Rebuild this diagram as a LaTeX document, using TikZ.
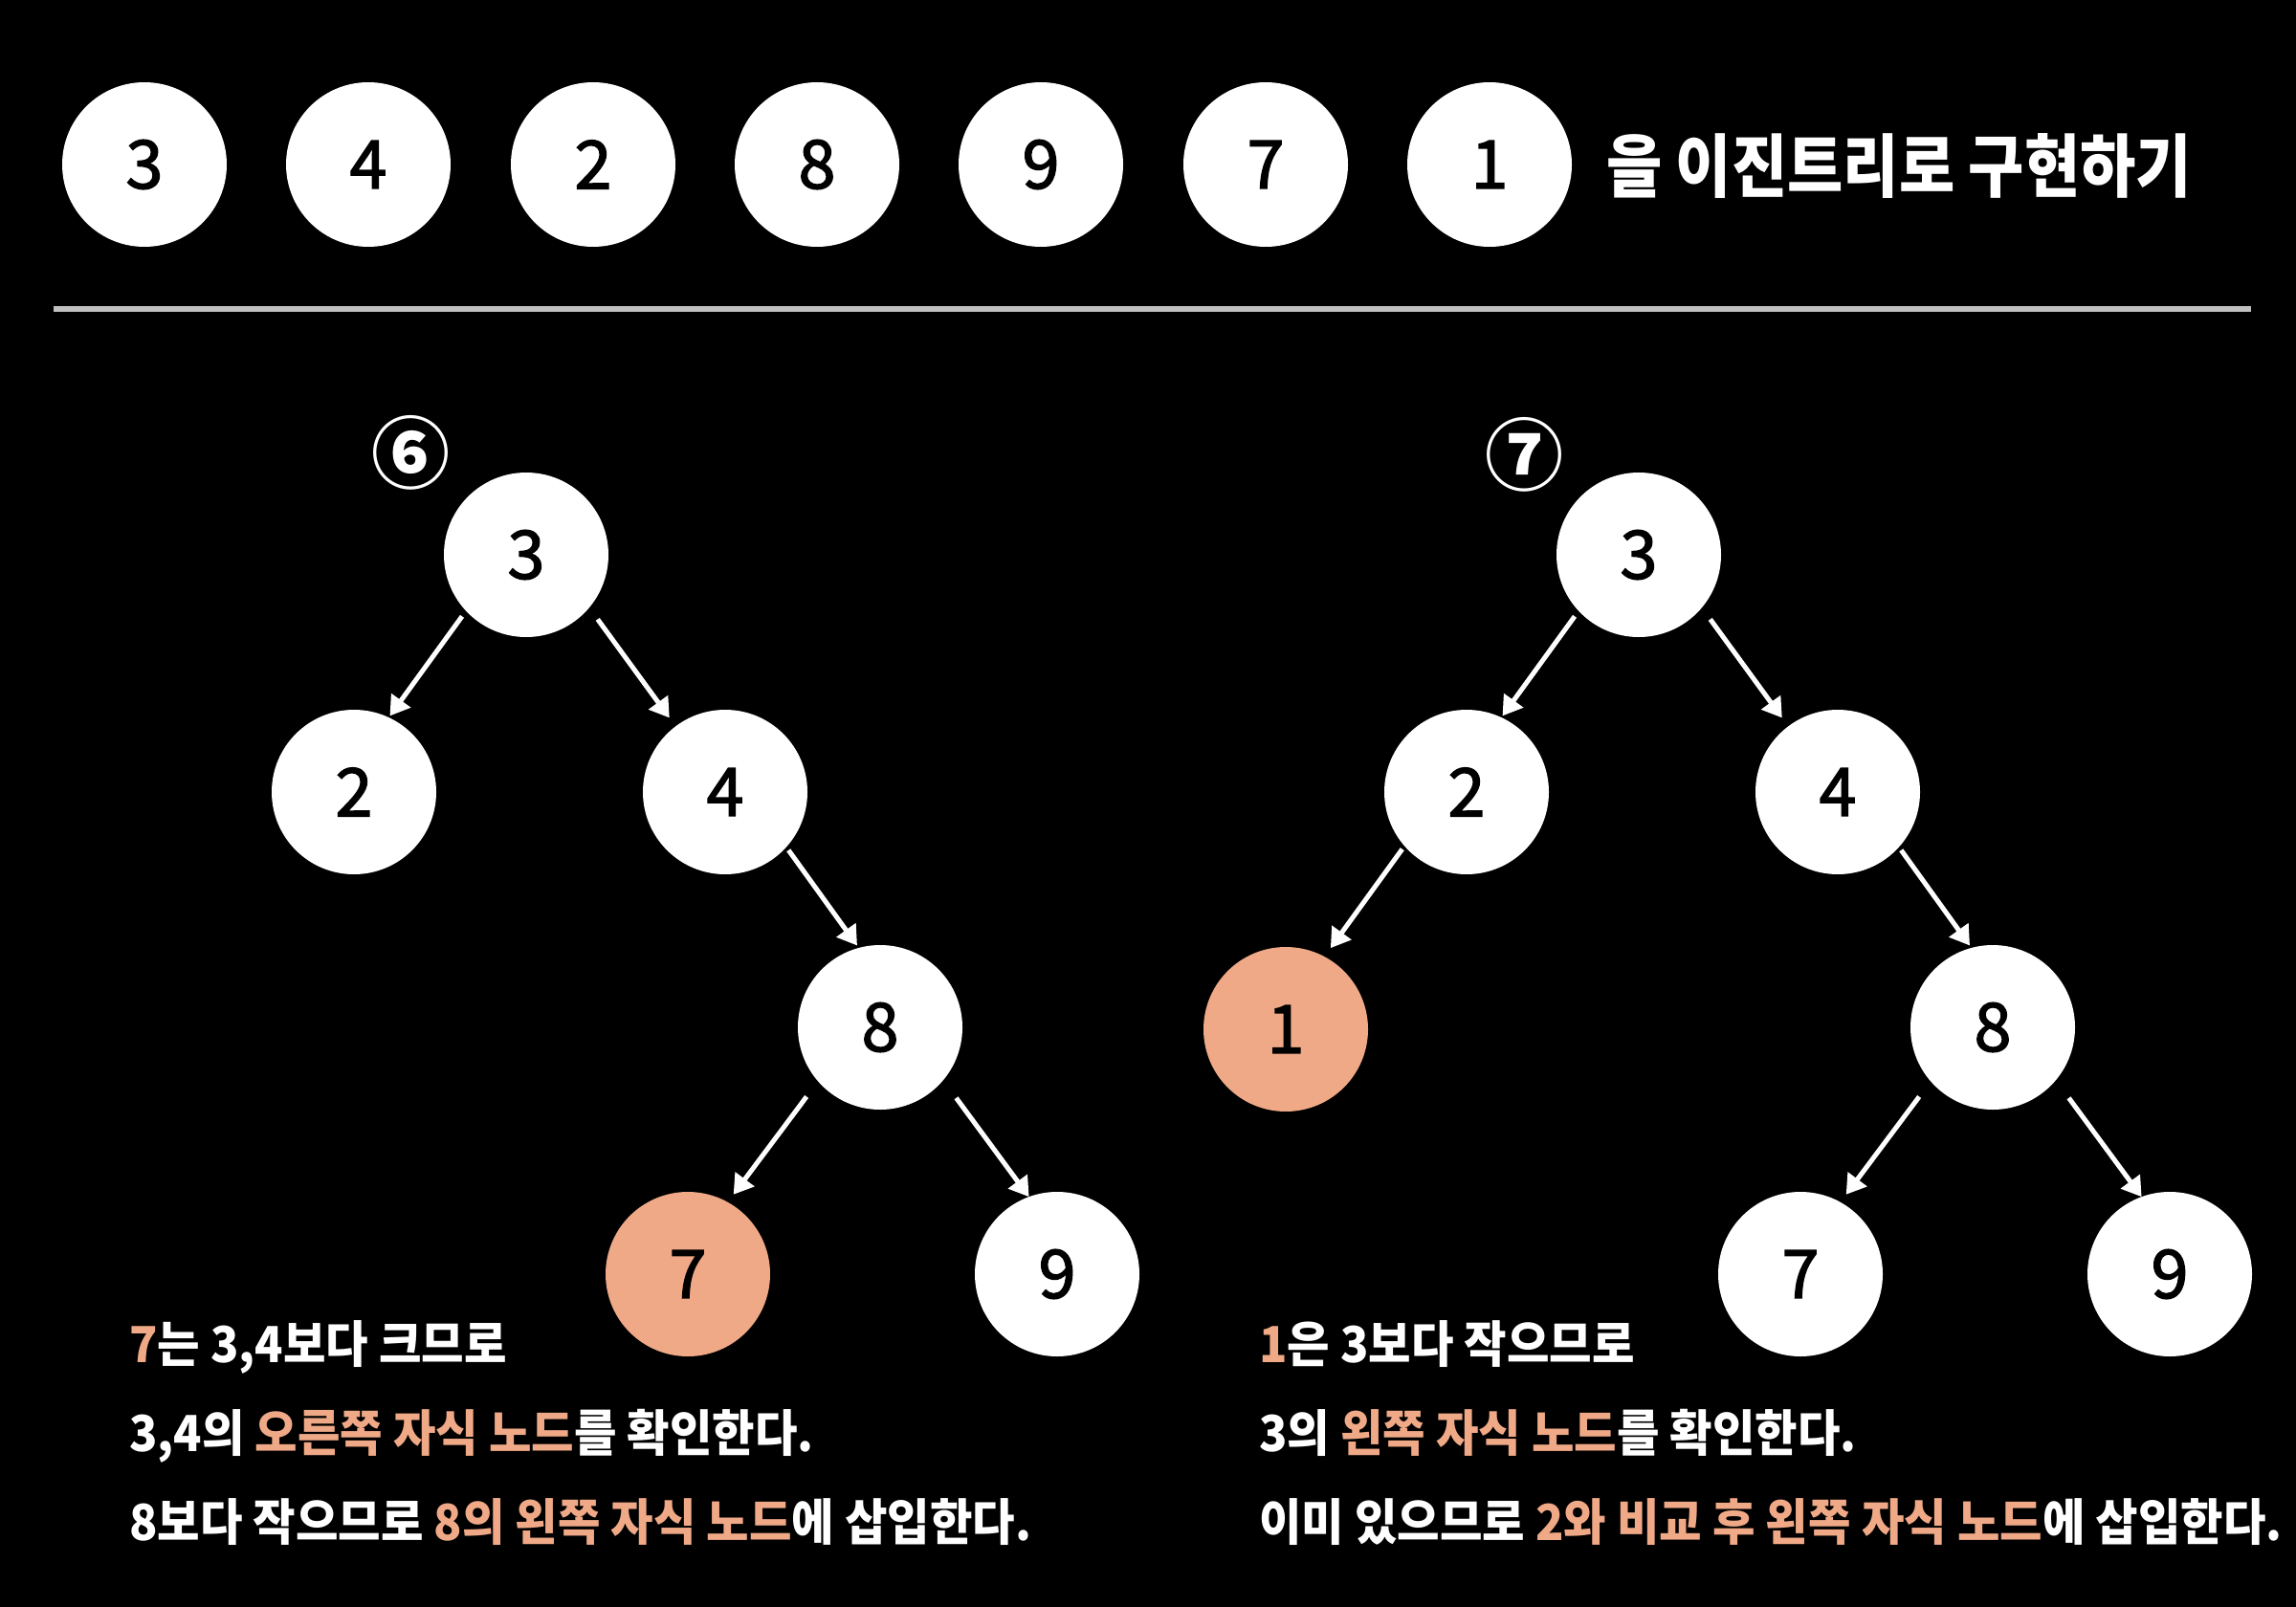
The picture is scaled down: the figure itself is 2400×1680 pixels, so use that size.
\documentclass[tikz,border=0pt]{standalone}
\usepackage{fontspec}
\usetikzlibrary{arrows.meta}
\setmainfont{Noto Sans CJK KR}
\newfontfamily\krbody[FakeStretch=0.93]{Noto Sans CJK KR}
\newfontfamily\krtitle[FakeStretch=0.88]{Noto Sans CJK KR}
\newfontfamily\krnum[FakeBold=2]{Noto Sans CJK KR}
\definecolor{hl}{HTML}{F0A987}
\definecolor{rulegray}{HTML}{C0C0C0}
\begin{document}
\begin{tikzpicture}[x=1pt,y=-1pt,
  nd/.style={circle,fill=white,minimum size=172pt,inner sep=0pt,outer sep=0pt,text=black,font=\krnum\fontsize{70}{80}\selectfont},
  hot/.style={nd,fill=hl},
  arr/.style={draw=white,line width=5pt,-{Triangle[width=24pt,length=20pt]}},
  body/.style={anchor=base west,inner sep=0pt,text=white,font=\krbody\bfseries\fontsize{52}{60}\selectfont},
  circnum/.style={anchor=base,inner sep=0pt,text=white,font=\bfseries\fontsize{82}{90}\selectfont}
]
\fill[black] (0,0) rectangle (2400,1680);
\useasboundingbox (0,0) rectangle (2400,1680);

% top row
\node[nd] (s1) at (151,172) {3};
\node[nd] (s2) at (385,172) {4};
\node[nd] (s3) at (620,172) {2};
\node[nd] (s4) at (854,172) {8};
\node[nd] (s5) at (1088,172) {9};
\node[nd] (s6) at (1323,172) {7};
\node[nd] (s7) at (1557,172) {1};
\node[anchor=base west,inner sep=0pt,text=white,font=\krtitle\bfseries\fontsize{72}{80}\selectfont] (title) at (1679,201) {을 이진트리로 구현하기};

\coordinate (ra) at (56,323);
\coordinate (rb) at (2353,323);
\draw[rulegray,line width=6pt] (ra) -- (rb);

% left tree
\node[circnum] (n6) at (429,504) {⑥};
\node[nd] (L3) at (550,580) {3};
\node[nd] (L2) at (370,828) {2};
\node[nd] (L4) at (758,828) {4};
\node[nd] (L8) at (920,1074) {8};
\node[hot] (L7) at (719,1332) {7};
\node[nd] (L9) at (1105,1332) {9};
\draw[arr,shorten <=7pt,shorten >=2pt] (L3.223) -- (L2.65);
\draw[arr,shorten <=15pt,shorten >=11pt] (L3.320) -- (L4.127);
\draw[arr,shorten <=4pt,shorten >=3pt] (L4.318) -- (L8.105);
\draw[arr,shorten <=20pt,shorten >=10pt] (L8.221) -- (L7.61);
\draw[arr,shorten <=23pt,shorten >=0pt] (L8.320) -- (L9.110);

% right tree
\node[circnum] (n7) at (1593,506) {⑦};
\node[nd] (R3) at (1713,580) {3};
\node[nd] (R2) at (1533,828) {2};
\node[nd] (R4) at (1921,828) {4};
\node[hot] (R1) at (1344,1076) {1};
\node[nd] (R8) at (2083,1074) {8};
\node[nd] (R7) at (1882,1332) {7};
\node[nd] (R9) at (2268,1332) {9};
\draw[arr,shorten <=7pt,shorten >=2pt] (R3.223) -- (R2.65);
\draw[arr,shorten <=15pt,shorten >=11pt] (R3.320) -- (R4.127);
\draw[arr,shorten <=4pt,shorten >=11pt] (R2.221) -- (R1.62);
\draw[arr,shorten <=4pt,shorten >=3pt] (R4.318) -- (R8.105);
\draw[arr,shorten <=20pt,shorten >=10pt] (R8.221) -- (R7.61);
\draw[arr,shorten <=23pt,shorten >=0pt] (R8.320) -- (R9.110);

% captions
\node[body] (a1) at (135,1424) {\textcolor{hl}{7}는 3,4보다 크므로};
\node[body] (a2) at (135,1517) {3,4의 \textcolor{hl}{오른쪽 자식 노드}를 확인한다.};
\node[body] (a3) at (135,1610) {8보다 작으므로 \textcolor{hl}{8의 왼쪽 자식 노드}에 삽입한다.};
\node[body] (b1) at (1316,1424) {\textcolor{hl}{1}은 3보다 작으므로};
\node[body] (b2) at (1316,1517) {3의 \textcolor{hl}{왼쪽 자식 노드}를 확인한다.};
\node[body] (b3) at (1316,1610) {이미 있으므로 \textcolor{hl}{2와 비교 후 왼쪽 자식 노드}에 삽입한다.};
\end{tikzpicture}
\end{document}
